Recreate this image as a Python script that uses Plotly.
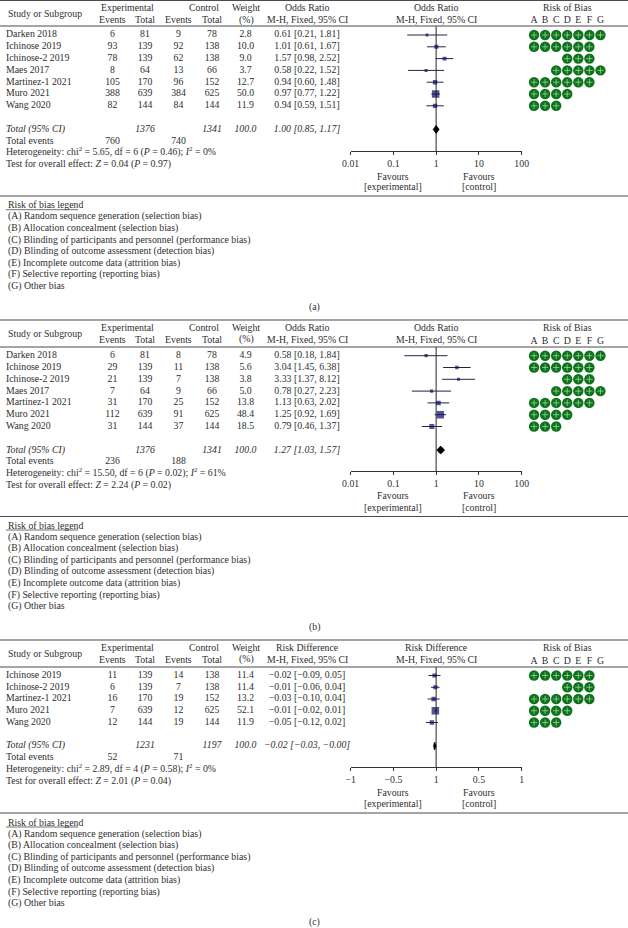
import plotly.graph_objects as go

W, H = 628, 928
FONT = "Liberation Serif"
FS = 9.8
TXT = "#2e2e2e"
RULE = "#4a4a4a"
GREEN = "#0d741c"
NAVY = "#0b0b5e"

rob_letters = ["A", "B", "C", "D", "E", "F", "G"]
rob_full = ["A", "B", "C", "D", "E", "F", "G"]
rob_b_ich = ["A", "B", "C", "D", "E", "F"]
rob_ich2 = ["D", "E", "F"]
rob_maes = ["C", "D", "E", "F", "G"]
rob_muro = ["A", "B", "C", "D"]
rob_wang = ["A", "B", "C"]

# Panel (a)
studies_a = ["Darken 2018", "Ichinose 2019", "Ichinose-2 2019", "Maes 2017", "Martinez-1 2021", "Muro 2021", "Wang 2020"]
exp_events_a = [6, 93, 78, 8, 105, 388, 82]
exp_total_a = [81, 139, 139, 64, 170, 639, 144]
ctl_events_a = [9, 92, 62, 13, 96, 384, 84]
ctl_total_a = [78, 138, 138, 66, 152, 625, 144]
weight_a = [2.8, 10.0, 9.0, 3.7, 12.7, 50.0, 11.9]
est_a = [0.61, 1.01, 1.57, 0.58, 0.94, 0.97, 0.94]
lo_a = [0.21, 0.61, 0.98, 0.22, 0.60, 0.77, 0.59]
hi_a = [1.81, 1.67, 2.52, 1.52, 1.48, 1.22, 1.51]
rob_a = [rob_full, rob_b_ich, rob_ich2, rob_maes, rob_b_ich, rob_muro, rob_wang]
total_a = dict(exp="1376", ctl="1341", est=1.00, lo=0.85, hi=1.17, ev_e="760", ev_c="740",
               chi="5.65", df="6", p="0.46", i2="0%", z="0.04", pz="0.97")

# Panel (b)
studies_b = studies_a
exp_events_b = [6, 29, 21, 7, 31, 112, 31]
exp_total_b = [81, 139, 139, 64, 170, 639, 144]
ctl_events_b = [8, 11, 7, 9, 25, 91, 37]
ctl_total_b = [78, 138, 138, 66, 152, 625, 144]
weight_b = [4.9, 5.6, 3.8, 5.0, 13.8, 48.4, 18.5]
est_b = [0.58, 3.04, 3.33, 0.78, 1.13, 1.25, 0.79]
lo_b = [0.18, 1.45, 1.37, 0.27, 0.63, 0.92, 0.46]
hi_b = [1.84, 6.38, 8.12, 2.23, 2.02, 1.69, 1.37]
rob_b = rob_a
total_b = dict(exp="1376", ctl="1341", est=1.27, lo=1.03, hi=1.57, ev_e="236", ev_c="188",
               chi="15.50", df="6", p="0.02", i2="61%", z="2.24", pz="0.02")

# Panel (c)
studies_c = ["Ichinose 2019", "Ichinose-2 2019", "Martinez-1 2021", "Muro 2021", "Wang 2020"]
exp_events_c = [11, 6, 16, 7, 12]
exp_total_c = [139, 139, 170, 639, 144]
ctl_events_c = [14, 7, 19, 12, 19]
ctl_total_c = [138, 138, 152, 625, 144]
weight_c = [11.4, 11.4, 13.2, 52.1, 11.9]
est_c = [-0.02, -0.01, -0.03, -0.01, -0.05]
lo_c = [-0.09, -0.06, -0.10, -0.02, -0.12]
hi_c = [0.05, 0.04, 0.04, 0.01, 0.02]
rob_c = [rob_b_ich, rob_ich2, rob_b_ich, rob_muro, rob_wang]
total_c = dict(exp="1231", ctl="1197", est=-0.02, lo=-0.03, hi=-0.00, ev_e="52", ev_c="71",
               chi="2.89", df="4", p="0.58", i2="0%", z="2.01", pz="0.04", neg_hi=True)

legend_lines = [
    "(A) Random sequence generation (selection bias)",
    "(B) Allocation concealment (selection bias)",
    "(C) Blinding of participants and personnel (performance bias)",
    "(D) Blinding of outcome assessment (detection bias)",
    "(E) Incomplete outcome data (attrition bias)",
    "(F) Selective reporting (reporting bias)",
    "(G) Other bias",
]

log_ticks = [0.01, 0.1, 1, 10, 100]
log_labels = ["0.01", "0.1", "1", "10", "100"]
rd_ticks = [-1, -0.5, 0, 0.5, 1]
rd_labels = ["\u22121", "\u22120.5", "1", "0.5", "1"]


def mn(v, d=2):
    s = f"{abs(v):.{d}f}"
    return ("\u2212" + s) if v < 0 else s


panels = [
    dict(tag="(a)", top=0.5, header=26, first=35, step=11.8, axis=151, bottom=196, leg=204.7, cap=306.7,
         measure="Odds Ratio", studies=studies_a, ee=exp_events_a, et=exp_total_a, ce=ctl_events_a, ct=ctl_total_a,
         w=weight_a, est=est_a, lo=lo_a, hi=hi_a, rob=rob_a, tot=total_a, log=True),
    dict(tag="(b)", top=320, header=347, first=355.7, step=11.8, axis=471, bottom=516.5, leg=525, cap=627,
         measure="Odds Ratio", studies=studies_b, ee=exp_events_b, et=exp_total_b, ce=ctl_events_b, ct=ctl_total_b,
         w=weight_b, est=est_b, lo=lo_b, hi=hi_b, rob=rob_b, tot=total_b, log=True),
    dict(tag="(c)", top=640, header=667, first=675.5, step=11.75, axis=767, bottom=813, leg=822, cap=922,
         measure="Risk Difference", studies=studies_c, ee=exp_events_c, et=exp_total_c, ce=ctl_events_c, ct=ctl_total_c,
         w=weight_c, est=est_c, lo=lo_c, hi=hi_c, rob=rob_c, tot=total_c, log=False),
]

fig = go.Figure()
layout = dict(
    width=W, height=H, autosize=False,
    margin=dict(l=0, r=0, t=0, b=0, autoexpand=False),
    paper_bgcolor="white", plot_bgcolor="rgba(0,0,0,0)",
    showlegend=False,
    font=dict(family=FONT, size=FS, color=TXT),
    xaxis7=dict(domain=[0, 1], range=[0, W], visible=False, fixedrange=True, anchor="y1"),
)
shapes, annots = [], []


def px(x):
    return x / W


def py(y):
    return 1 - y / H


def note(x, y, text, anchor="center", size=FS, color=TXT):
    annots.append(dict(x=px(x), y=py(y), xref="paper", yref="paper", text=text, showarrow=False,
                       xanchor=anchor, yanchor="middle", align=anchor,
                       font=dict(family=FONT, size=size, color=color)))


def rule(x0, x1, y, color=RULE, width=1.0):
    shapes.append(dict(type="line", xref="paper", yref="paper", x0=px(x0), x1=px(x1), y0=py(y), y1=py(y),
                       line=dict(color=color, width=width)))


for i, P in enumerate(panels):
    n = i + 1
    ya = f"y{n}"
    xf = f"x{n}"
    xr = f"x{n + 3}"
    yr_bottom = (P["bottom"] - P["first"]) / P["step"]
    yr_axis = (P["axis"] - P["first"]) / P["step"]
    yr_top = (P["header"] - P["first"]) / P["step"]
    layout[f"yaxis{n}"] = dict(domain=[py(P["bottom"]), py(P["header"])], range=[yr_bottom, yr_top],
                               visible=False, fixedrange=True, anchor=xf)
    if P["log"]:
        layout[f"xaxis{n}"] = dict(domain=[px(350.7), px(521.7)], type="log", range=[-2, 2],
                                   tickvals=log_ticks, ticktext=log_labels)
    else:
        layout[f"xaxis{n}"] = dict(domain=[px(350.7), px(521.7)], range=[-1, 1],
                                   tickvals=rd_ticks, ticktext=rd_labels)
    layout[f"xaxis{n}"].update(anchor="free", position=py(P["axis"]),
                               showline=True, linecolor="#333333", linewidth=1, ticks="outside", ticklen=3,
                               tickcolor="#333333", tickwidth=1, showgrid=False, zeroline=False, fixedrange=True,
                               tickfont=dict(family=FONT, size=FS, color=TXT), tickangle=0)
    layout[f"xaxis{n + 3}"] = dict(domain=[px(528.5), px(606)], type="category", categoryorder="array",
                                   categoryarray=rob_letters, range=[-0.5, 6.5], anchor=ya, side="top",
                                   showline=False, showgrid=False, zeroline=False, ticks="", fixedrange=True,
                                   tickmode="array", tickvals=rob_letters, ticktext=rob_letters,
                                   tickfont=dict(family=FONT, size=FS, color=TXT))

    k = len(P["studies"])
    rows = list(range(k))
    total_row = k + 1
    extra = [k + 2, k + 3, k + 4]

    ref = 1 if P["log"] else 0
    fig.add_trace(go.Scatter(x=[ref, ref], y=[yr_top, yr_axis], mode="lines", xaxis=xf, yaxis=ya,
                             line=dict(color="#777777", width=1.6), hoverinfo="skip"))
    cx, cy = [], []
    for r, a, b in zip(rows, P["lo"], P["hi"]):
        cx += [a, b, None]
        cy += [r, r, None]
    fig.add_trace(go.Scatter(x=cx, y=cy, mode="lines", xaxis=xf, yaxis=ya,
                             line=dict(color="#23234a", width=1.0), hoverinfo="skip"))
    fig.add_trace(go.Scatter(x=P["est"], y=rows, mode="markers", xaxis=xf, yaxis=ya,
                             marker=dict(symbol="square", color=NAVY, size=[1.3 + w ** 0.5 * 0.87 for w in P["w"]],
                                         line=dict(width=0)), hoverinfo="skip"))
    T = P["tot"]
    fig.add_trace(go.Scatter(x=[T["lo"], T["est"], T["hi"], T["est"], T["lo"]],
                             y=[total_row, total_row - 0.34, total_row, total_row + 0.34, total_row],
                             mode="lines", fill="toself", fillcolor="black", xaxis=xf, yaxis=ya,
                             line=dict(color="black", width=0.8), hoverinfo="skip"))
    rx, ry = [], []
    for r, letters in zip(rows, P["rob"]):
        for L in letters:
            rx.append(L)
            ry.append(r)
    fig.add_trace(go.Scatter(x=rx, y=ry, mode="markers", xaxis=xr, yaxis=ya, cliponaxis=False,
                             marker=dict(symbol="circle", color=GREEN, size=10.4, line=dict(width=0)),
                             hoverinfo="skip"))
    fig.add_trace(go.Scatter(x=rx, y=ry, mode="markers", xaxis=xr, yaxis=ya, cliponaxis=False,
                             marker=dict(symbol="cross-thin", size=4.5, color="#b5d8b5",
                                         line=dict(color="#b5d8b5", width=0.7)),
                             hoverinfo="skip"))

    def col(x, labels, pos="middle center", rws=rows):
        fig.add_trace(go.Scatter(x=[x] * len(labels), y=list(rws), text=labels, mode="text", textposition=pos,
                                 xaxis="x7", yaxis=ya, cliponaxis=False, hoverinfo="skip",
                                 textfont=dict(family=FONT, size=FS, color=TXT)))

    col(6, P["studies"], "middle right")
    col(112.5, [str(v) for v in P["ee"]])
    col(145, [str(v) for v in P["et"]])
    col(178.5, [str(v) for v in P["ce"]])
    col(212, [str(v) for v in P["ct"]])
    col(245.5, [f"{v:.1f}" for v in P["w"]])
    col(307, [f"{mn(e)} [{mn(a)}, {mn(b)}]" for e, a, b in zip(P["est"], P["lo"], P["hi"])])

    hi_txt = "\u22120.00" if T.get("neg_hi") else mn(T["hi"])
    col(6, ["<i>Total (95% CI)</i>"], "middle right", [total_row])
    col(145, [f"<i>{T['exp']}</i>"], rws=[total_row])
    col(212, [f"<i>{T['ctl']}</i>"], rws=[total_row])
    col(245.5, ["<i>100.0</i>"], rws=[total_row])
    col(307, [f"<i>{mn(T['est'])} [{mn(T['lo'])}, {hi_txt}]</i>"], rws=[total_row])
    col(6, ["Total events"], "middle right", [extra[0]])
    col(112.5, [T["ev_e"]], rws=[extra[0]])
    col(178.5, [T["ev_c"]], rws=[extra[0]])
    col(6, [f"Heterogeneity: chi<sup>2</sup> = {T['chi']}, df = {T['df']} (<i>P</i> = {T['p']}); "
            f"<i>I</i><sup>2</sup> = {T['i2']}"], "middle right", [extra[1]])
    col(6, [f"Test for overall effect: <i>Z</i> = {T['z']} (<i>P</i> = {T['pz']})"], "middle right", [extra[2]])

    t = P["top"]
    l1, l2 = t + 7.5, t + 19
    note(6, t + 13, "Study or Subgroup", "left")
    note(127.5, l1, "Experimental")
    note(221, l1, "Control", "right")
    note(246, l1, "Weight")
    note(112.5, l2, "Events")
    note(145, l2, "Total")
    note(178.5, l2, "Events")
    note(212, l2, "Total")
    note(246, l2, "(%)")
    note(307, l1, P["measure"])
    note(307, l2, "M-H, Fixed, 95% CI")
    note(436, l1, P["measure"])
    note(436, l2, "M-H, Fixed, 95% CI")
    note(567, l1, "Risk of Bias")

    ax = P["axis"]
    note(393, ax + 25, "Favours")
    note(393, ax + 36, "[experimental]")
    note(479, ax + 25, "Favours")
    note(479, ax + 36, "[control]")

    rule(0, W, t, width=1.2)
    rule(0, W, P["header"], width=1.0)
    rule(0, W, P["bottom"], width=1.0)

    note(6, P["leg"], "Risk of bias legend", "left")
    rule(6, 78, P["leg"] + 5, color="#333333", width=0.7)
    for j, line in enumerate(legend_lines):
        note(6, P["leg"] + (j + 1) * 11.6, line, "left")
    note(314, P["cap"], P["tag"])

layout["shapes"] = shapes
layout["annotations"] = annots
fig.update_layout(**layout)
fig.write_html("out.html", config={"displayModeBar": False},
               post_script="document.body.style.margin='0';document.documentElement.style.overflow='hidden';")
